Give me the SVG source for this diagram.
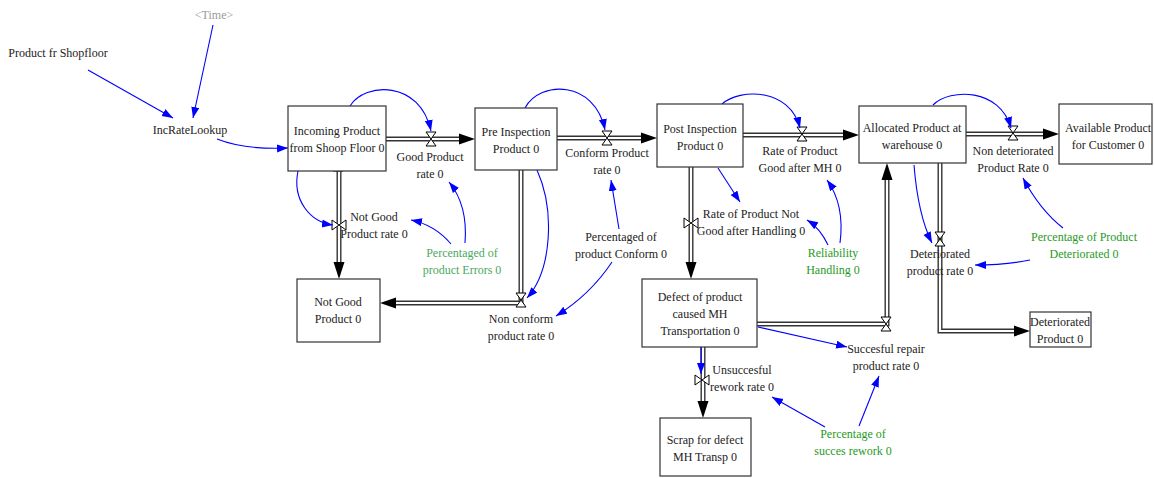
<svg xmlns="http://www.w3.org/2000/svg" width="1154" height="478" viewBox="0 0 1154 478">
<defs>
<style>
text{font-family:"Liberation Serif","Times New Roman",serif;font-size:12px;fill:#222;text-anchor:middle}
.g1{fill:#4aa860}
.g2{fill:#1f9a24}
.tm{fill:#9a9a9a}
.box{fill:#fff;stroke:#333;stroke-width:1.2}
.po{fill:none;stroke:#333;stroke-width:5}
.pi{fill:none;stroke:#fff;stroke-width:2.2}
.ah{fill:#000}
.v{fill:#fff;stroke:#000;stroke-width:1}
.c{fill:none;stroke:#0000ff;stroke-width:1.1;marker-end:url(#ba)}
</style>
<marker id="ba" markerUnits="userSpaceOnUse" markerWidth="12" markerHeight="9" refX="11" refY="4" orient="auto">
<path d="M0,0 L11,4 L0,8 Z" fill="#0000ff"/>
</marker>
<path id="hg" d="M-5,-7 L5,-7 L-5,7 L5,7 Z"/>
</defs>

<g id="connectors">
<!-- pipes -->
<g id="pipes">
<path class="po" d="M386,139 H462"/><path class="pi" d="M386,139 H462"/>
<path class="po" d="M339,171 V265"/><path class="pi" d="M339,171 V265"/>
<path class="po" d="M557,138 H644"/><path class="pi" d="M557,138 H644"/>
<path class="po" d="M521,170 V303 H394"/><path class="pi" d="M521,170 V303 H394"/>
<path class="po" d="M743,135 H846"/><path class="pi" d="M743,135 H846"/>
<path class="po" d="M691,167 V265"/><path class="pi" d="M691,167 V265"/>
<path class="po" d="M966,134 H1046"/><path class="pi" d="M966,134 H1046"/>
<path class="po" d="M940,163 V331 H1017"/><path class="pi" d="M940,163 V331 H1017"/>
<path class="po" d="M757,324 H887 V177"/><path class="pi" d="M757,324 H887 V177"/>
<path class="po" d="M703,347 V404"/><path class="pi" d="M703,347 V404"/>
<!-- pipe arrowheads -->
<polygon class="ah" points="475,139 459,133.5 459,144.5"/>
<polygon class="ah" points="339,279 333.5,262 344.5,262"/>
<polygon class="ah" points="657,138 641,132.5 641,143.5"/>
<polygon class="ah" points="380,303 396,297.5 396,308.5"/>
<polygon class="ah" points="859,135 843,129.5 843,140.5"/>
<polygon class="ah" points="691,279 685.5,262 696.5,262"/>
<polygon class="ah" points="1059,134 1043,128.5 1043,139.5"/>
<polygon class="ah" points="1030,331 1014,325.5 1014,336.5"/>
<polygon class="ah" points="887,163 881.5,180 892.5,180"/>
<polygon class="ah" points="703,418 697.5,401 708.5,401"/>
<!-- valves -->
<use href="#hg" class="v" transform="translate(431,139)"/>
<use href="#hg" class="v" transform="translate(338,164)"/>
<use href="#hg" class="v" transform="translate(339,225) rotate(90)"/>
<use href="#hg" class="v" transform="translate(607,138)"/>
<use href="#hg" class="v" transform="translate(521,300)"/>
<use href="#hg" class="v" transform="translate(802,134)"/>
<use href="#hg" class="v" transform="translate(691,223) rotate(90)"/>
<use href="#hg" class="v" transform="translate(1013,133)"/>
<use href="#hg" class="v" transform="translate(940,239)"/>
<use href="#hg" class="v" transform="translate(886,324)"/>
<use href="#hg" class="v" transform="translate(702,380) rotate(90)"/>
</g>
<!-- influence links -->
<g id="links">
<path class="c" d="M88,70 L173,118"/>
<path class="c" d="M213,25 L193,118"/>
<path class="c" d="M217,139 Q245,150 288,148"/>
<path class="c" d="M350,106 C365,82 420,80 431,131"/>
<path class="c" d="M298,171 C292,200 310,222 333,225"/>
<path class="c" d="M465,243 Q468,205 449,182"/>
<path class="c" d="M451,244 Q435,225 411,220"/>
<path class="c" d="M525,108 C540,80 595,80 605,130"/>
<path class="c" d="M537,170 C555,210 552,270 527,298"/>
<path class="c" d="M619,229 L611,180"/>
<path class="c" d="M612,262 Q590,295 556,316"/>
<path class="c" d="M722,104 C740,88 790,88 800,128"/>
<path class="c" d="M718,168 L740,202"/>
<path class="c" d="M840,243 Q845,205 827,180"/>
<path class="c" d="M828,245 Q820,228 807,220"/>
<path class="c" d="M933,105 C950,88 1000,88 1011,128"/>
<path class="c" d="M914,165 Q918,215 932,243"/>
<path class="c" d="M1063,228 Q1040,210 1023,178"/>
<path class="c" d="M1030,260 Q1005,265 975,265"/>
<path class="c" d="M758,327 L847,347"/>
<path class="c" d="M701,347 L701,374"/>
<path class="c" d="M825,427 L772,397"/>
<path class="c" d="M859,426 L879,376"/>
</g>
</g>

<!-- stocks -->
<g id="incoming"><rect class="box" x="288" y="106" width="98" height="65"/><text x="337" y="135">Incoming Product</text><text x="337" y="152">from Shoop Floor 0</text></g>
<g id="preinspection"><rect class="box" x="475" y="108" width="82" height="62"/><text x="516" y="136">Pre Inspection</text><text x="516" y="153">Product 0</text></g>
<g id="postinspection"><rect class="box" x="657" y="104" width="86" height="63"/><text x="700" y="133">Post Inspection</text><text x="700" y="150">Product 0</text></g>
<g id="allocated"><rect class="box" x="859" y="106" width="107" height="57"/><text x="912" y="132">Allocated Product at</text><text x="912" y="149">warehouse 0</text></g>
<g id="available"><rect class="box" x="1059" y="104" width="93" height="60"/><text x="1108" y="132">Available Product</text><text x="1108" y="149">for Customer 0</text></g>
<g id="notgood"><rect class="box" x="297" y="279" width="83" height="63"/><text x="338" y="306">Not Good</text><text x="338" y="323">Product 0</text></g>
<g id="defect"><rect class="box" x="642" y="279" width="115" height="68"/><text x="700" y="301">Defect of product</text><text x="700" y="318">caused MH</text><text x="700" y="335">Transportation 0</text></g>
<g id="scrap"><rect class="box" x="660" y="418" width="91" height="58"/><text x="705" y="444">Scrap for defect</text><text x="705" y="461">MH Transp 0</text></g>
<g id="deteriorated"><rect class="box" x="1030" y="312" width="61" height="35"/><text x="1060" y="326">Deteriorated</text><text x="1060" y="343">Product 0</text></g>

<!-- flow labels -->
<g id="goodrate"><text x="430" y="161">Good Product</text><text x="430" y="178">rate 0</text></g>
<g id="notgoodrate"><text x="374" y="221">Not Good</text><text x="374" y="238">Product rate 0</text></g>
<g id="conformrate"><text x="607" y="157">Conform Product</text><text x="607" y="174">rate 0</text></g>
<g id="nonconformrate"><text x="521" y="323">Non conform</text><text x="521" y="340">product rate 0</text></g>
<g id="goodmhrate"><text x="800" y="155">Rate of Product</text><text x="800" y="172">Good after MH 0</text></g>
<g id="notgoodmhrate"><text x="751" y="218">Rate of Product Not</text><text x="751" y="235">Good after Handling 0</text></g>
<g id="nondetrate"><text x="1013" y="155">Non deteriorated</text><text x="1013" y="172">Product Rate 0</text></g>
<g id="detrate"><text x="940" y="258">Deteriorated</text><text x="940" y="275">product rate 0</text></g>
<g id="succrate"><text x="886" y="353">Succesful repair</text><text x="886" y="370">product rate 0</text></g>
<g id="unsuccrate"><text x="742" y="374">Unsuccesful</text><text x="742" y="391">rework rate 0</text></g>

<!-- auxiliaries -->
<g id="shopfloor"><text x="58" y="57">Product fr Shopfloor</text></g>
<g id="time"><text class="tm" x="214" y="19">&lt;Time&gt;</text></g>
<g id="incratelookup"><text x="190" y="134">IncRateLookup</text></g>
<g id="pcterrors"><text class="g1" x="462" y="257">Percentaged of</text><text class="g1" x="462" y="274">product Errors 0</text></g>
<g id="pctconform"><text x="621" y="241">Percentaged of</text><text x="621" y="258">product Conform 0</text></g>
<g id="reliability"><text class="g2" x="833" y="257">Reliability</text><text class="g2" x="833" y="274">Handling 0</text></g>
<g id="pctdet"><text class="g2" x="1084" y="241">Percentage of Product</text><text class="g2" x="1084" y="258">Deteriorated 0</text></g>
<g id="pctrework"><text class="g2" x="853" y="438">Percentage of</text><text class="g2" x="853" y="455">succes rework 0</text></g>
</svg>
